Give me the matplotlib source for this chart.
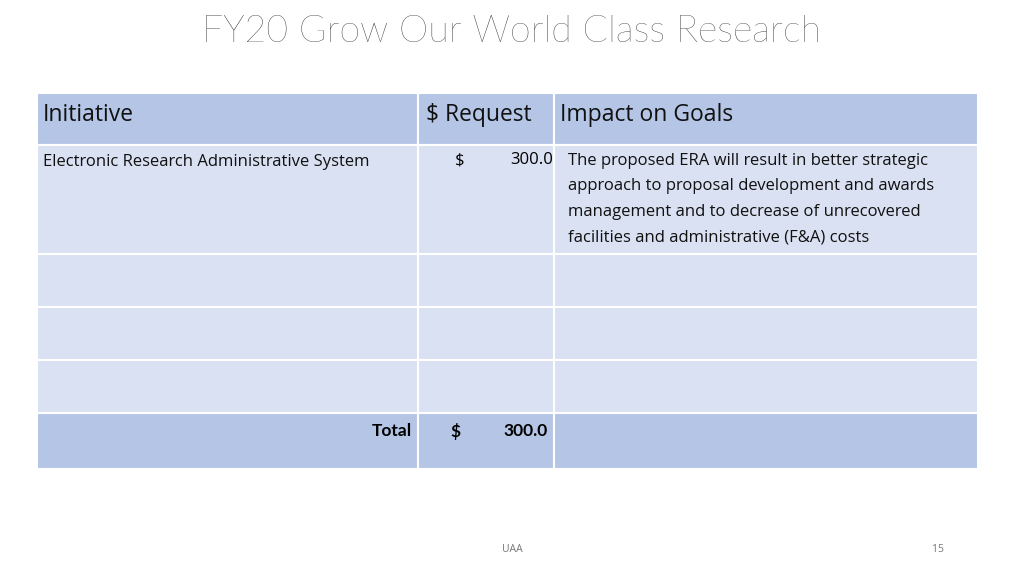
import matplotlib
matplotlib.use("Agg")
import matplotlib.pyplot as plt
from matplotlib.patches import Rectangle

title = "FY20 Grow Our World Class Research"
headers = ["Initiative", "$ Request", "Impact on Goals"]
initiatives = ["Electronic Research Administrative System", "", "", ""]
requests = [300.0, None, None, None]
impacts = ["The proposed ERA will result in better strategic\napproach to proposal development and awards\nmanagement and to decrease of unrecovered\nfacilities and administrative (F&A) costs", "", "", ""]
total_label = "Total"
total_value = sum(r for r in requests if r is not None)

plt.rcParams["font.family"] = "Open Sans"
fig = plt.figure(figsize=(10.24, 5.76), dpi=100)
ax = fig.add_axes([0, 0, 1, 1])
ax.set_xlim(0, 1024); ax.set_ylim(576, 0); ax.axis("off")

cols = [37, 418, 554, 978]
rows = [93, 145, 254, 307, 360, 413, 469]
hdr, body = "#B4C5E6", "#D9E1F2"
for r in range(6):
    color = hdr if r in (0, 5) else body
    for c in range(3):
        ax.add_patch(Rectangle((cols[c], rows[r]), cols[c+1]-cols[c], rows[r+1]-rows[r],
                               facecolor=color, edgecolor="white", linewidth=1.5))

ax.text(512, 32, title, ha="center", va="center", fontsize=27, color="#222222",
        family="Lato", fontweight="light")
for c, h in enumerate(headers):
    x = cols[c] + 6 if c != 1 else cols[1] + 8
    ax.text(x, 115, h, ha="left", va="center", fontsize=16.5, color="#111111")

for i in range(4):
    y = rows[i+1] + 17
    ax.text(43, y, initiatives[i], ha="left", va="center", fontsize=12, color="#111111")
    if requests[i] is not None:
        ax.text(455, y - 2, "$", ha="left", va="center", fontsize=12)
        ax.text(553, y - 2, f"{requests[i]:.1f}", ha="right", va="center", fontsize=12)
    ax.text(568, y - 9, impacts[i], ha="left", va="top", fontsize=12, linespacing=1.78, color="#111111")

ax.text(412, 431, total_label, ha="right", va="center", fontsize=12.5, fontweight="bold", family="Lato")
ax.text(450, 431, "$", ha="left", va="center", fontsize=12.5, fontweight="bold", family="Lato")
ax.text(548, 431, f"{total_value:.1f}", ha="right", va="center", fontsize=12.5, fontweight="bold", family="Lato")

ax.text(512, 549, "UAA", ha="center", va="center", fontsize=7.5, color="#777777")
ax.text(938, 549, "15", ha="center", va="center", fontsize=7.5, color="#777777")
fig.savefig("out.png", dpi=100)
